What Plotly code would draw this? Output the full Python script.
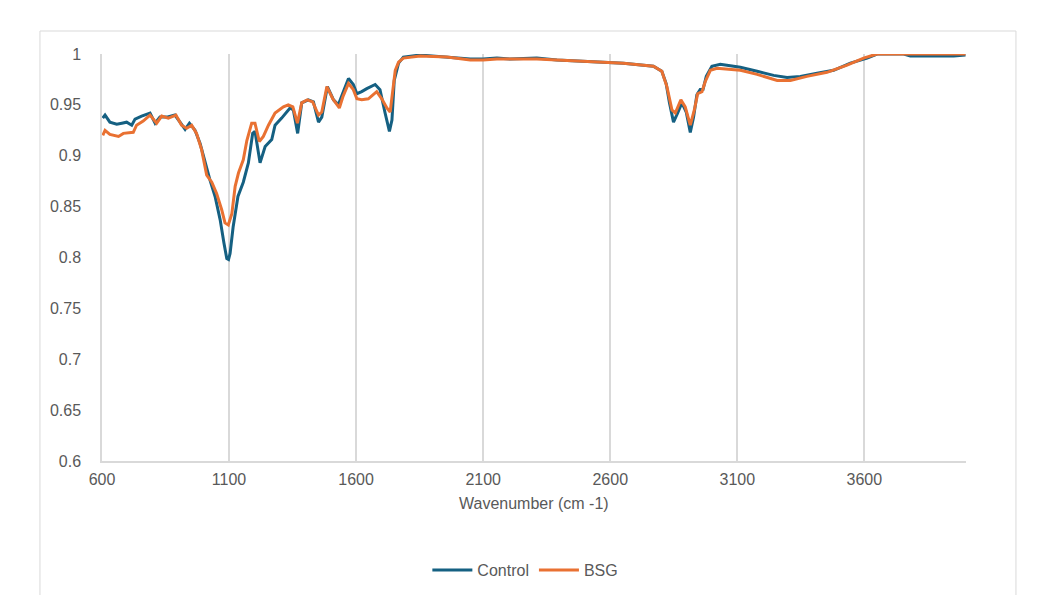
import plotly.graph_objects as go

# ---- data ----
control_wn = [603, 612, 631, 658, 678, 697, 717, 730, 756, 789, 809, 828, 855, 887, 907, 927, 944, 966,
              986, 1006, 1025, 1045, 1065, 1080, 1091, 1098, 1104, 1116, 1135, 1156, 1176, 1193, 1202,
              1222, 1242, 1268, 1281, 1307, 1340, 1353, 1370, 1386, 1412, 1432, 1452, 1465, 1487, 1511,
              1530, 1550, 1570, 1589, 1603, 1622, 1642, 1675, 1694, 1714, 1731, 1741, 1750, 1767, 1786,
              1852, 1957, 2049, 2100, 2154, 2206, 2311, 2390, 2469, 2573, 2652, 2731, 2770, 2803, 2820,
              2833, 2849, 2865, 2882, 2899, 2915, 2928, 2941, 2954, 2965, 2978, 3000, 3033, 3099, 3112,
              3178, 3243, 3296, 3348, 3414, 3479, 3545, 3611, 3650, 3755, 3781, 3952, 3998]
control_t = [0.937, 0.940, 0.933, 0.931, 0.932, 0.933, 0.930, 0.936, 0.939, 0.942, 0.932, 0.938, 0.938,
             0.940, 0.933, 0.926, 0.932, 0.925, 0.912, 0.893, 0.876, 0.860, 0.837, 0.814, 0.799, 0.798,
             0.804, 0.830, 0.860, 0.874, 0.893, 0.922, 0.924, 0.893, 0.909, 0.916, 0.930, 0.937, 0.947,
             0.945, 0.922, 0.952, 0.955, 0.953, 0.933, 0.938, 0.968, 0.955, 0.950, 0.963, 0.976, 0.970,
             0.961, 0.963, 0.966, 0.970, 0.965, 0.942, 0.924, 0.935, 0.974, 0.991, 0.997, 0.999, 0.997,
             0.995, 0.995, 0.996, 0.995, 0.996, 0.994, 0.993, 0.992, 0.991, 0.989, 0.988, 0.983, 0.971,
             0.952, 0.933, 0.942, 0.952, 0.943, 0.923, 0.938, 0.960, 0.965, 0.965, 0.978, 0.988, 0.990,
             0.988, 0.987, 0.983, 0.979, 0.977, 0.978, 0.981, 0.984, 0.991, 0.996, 1.000, 1.000, 0.998,
             0.998, 0.999]

bsg_wn = [603, 612, 631, 665, 684, 723, 736, 762, 789, 815, 835, 861, 891, 913, 933, 953, 972, 992,
          1012, 1032, 1051, 1071, 1084, 1097, 1111, 1124, 1137, 1156, 1170, 1189, 1202, 1219, 1235,
          1255, 1281, 1314, 1333, 1351, 1369, 1386, 1408, 1429, 1452, 1465, 1485, 1508, 1534, 1548,
          1570, 1589, 1603, 1622, 1648, 1681, 1701, 1721, 1734, 1744, 1754, 1767, 1786, 1852, 1957,
          2049, 2100, 2154, 2206, 2311, 2390, 2469, 2573, 2652, 2731, 2770, 2803, 2823, 2843, 2856,
          2878, 2895, 2915, 2931, 2944, 2961, 2974, 2994, 3020, 3099, 3112, 3178, 3257, 3309, 3374,
          3453, 3532, 3597, 3650, 3768, 3952, 3998]
bsg_t = [0.920, 0.925, 0.921, 0.919, 0.922, 0.923, 0.930, 0.934, 0.940, 0.932, 0.939, 0.937, 0.940,
         0.930, 0.927, 0.930, 0.922, 0.906, 0.881, 0.874, 0.863, 0.847, 0.834, 0.832, 0.843, 0.870,
         0.883, 0.896, 0.915, 0.932, 0.932, 0.914, 0.919, 0.930, 0.942, 0.948, 0.950, 0.948, 0.932,
         0.952, 0.955, 0.953, 0.940, 0.943, 0.968, 0.956, 0.947, 0.958, 0.971, 0.965, 0.956, 0.955,
         0.956, 0.963, 0.956, 0.947, 0.943, 0.961, 0.984, 0.992, 0.996, 0.998, 0.997, 0.994, 0.994,
         0.995, 0.995, 0.995, 0.994, 0.993, 0.992, 0.991, 0.989, 0.988, 0.983, 0.968, 0.945, 0.942,
         0.955, 0.948, 0.930, 0.945, 0.961, 0.963, 0.973, 0.984, 0.986, 0.984, 0.984, 0.980, 0.974,
         0.974, 0.978, 0.982, 0.989, 0.996, 1.000, 1.000, 1.000, 1.000]

x_ticks = [600, 1100, 1600, 2100, 2600, 3100, 3600]
y_ticks = [0.6, 0.65, 0.7, 0.75, 0.8, 0.85, 0.9, 0.95, 1]

FONT = "Liberation Sans"
GRAY = "#595959"
GRID = "#D9D9D9"

fig = go.Figure()
fig.add_trace(go.Scatter(x=control_wn, y=control_t, mode="lines", name="Control",
                         line=dict(color="#156082", width=3)))
fig.add_trace(go.Scatter(x=bsg_wn, y=bsg_t, mode="lines", name="BSG",
                         line=dict(color="#E97132", width=3)))

fig.update_layout(
    width=1037, height=595,
    margin=dict(l=102, r=71, t=54, b=134),
    paper_bgcolor="white", plot_bgcolor="white",
    font=dict(family=FONT, size=16, color=GRAY),
    showlegend=True,
    legend=dict(orientation="h", x=0.49, xanchor="center",
                yref="container", y=0.042, yanchor="middle",
                font=dict(family=FONT, size=16, color=GRAY), itemwidth=40),
    xaxis=dict(range=[600, 4000], tickvals=x_ticks, ticktext=[str(v) for v in x_ticks],
               showgrid=True, gridcolor=GRID, gridwidth=1.5,
               showline=True, linecolor=GRID, linewidth=1.5,
               ticks="", zeroline=False, ticklabelstandoff=3),
    yaxis=dict(range=[0.6, 1.0], tickvals=y_ticks, ticktext=[f"{v:g}" for v in y_ticks],
               showgrid=False, showline=True, linecolor=GRID, linewidth=1.5,
               ticks="", zeroline=False, ticklabelstandoff=16),
    shapes=[dict(type="rect", xref="paper", yref="paper",
                 x0=-0.0718, x1=1.0578, y0=-0.35, y1=1.0565,
                 line=dict(color=GRID, width=1), fillcolor="rgba(0,0,0,0)", layer="below")],
    annotations=[dict(text="Wavenumber (cm -1)", xref="paper", yref="paper",
                      x=0.5, y=-0.105, xanchor="center", yanchor="middle",
                      showarrow=False, font=dict(family=FONT, size=16, color=GRAY))],
)

fig.write_html("out.html")
